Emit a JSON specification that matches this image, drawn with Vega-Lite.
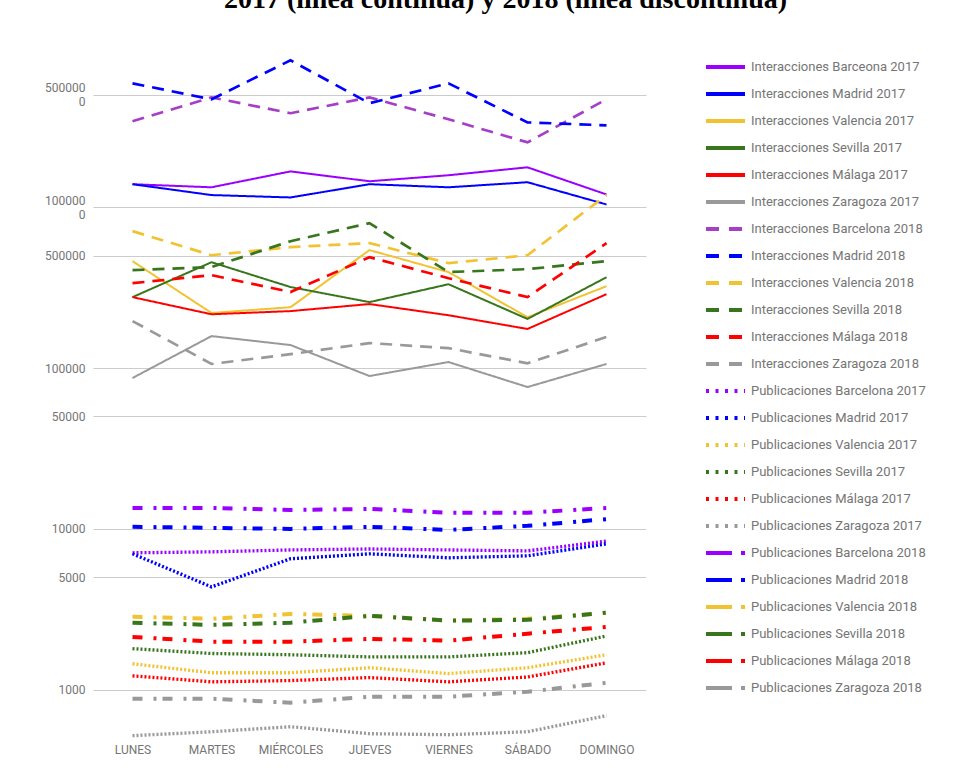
{
  "$schema": "https://vega.github.io/schema/vega-lite/v6.json",
  "width": 553,
  "height": 700,
  "autosize": {"type": "none"},
  "padding": {"left": 93, "top": 41, "right": 318, "bottom": 43},
  "background": "white",
  "title": {
    "text": "2017 (línea continua) y 2018 (línea discontinua)",
    "font": "Liberation Serif",
    "fontSize": 28,
    "fontWeight": "bold",
    "color": "#000000",
    "anchor": "middle",
    "frame": "group",
    "dx": 136,
    "dy": 15,
    "baseline": "alphabetic",
    "offset": 20
  },
  "config": {
    "font": "Roboto",
    "view": {"stroke": null},
    "axis": {
      "labelColor": "#757575",
      "labelFont": "Roboto",
      "labelFontSize": 12,
      "domain": false,
      "ticks": false,
      "tickSize": 0,
      "title": null
    },
    "legend": {
      "title": null,
      "symbolType": "stroke",
      "symbolSize": 1521,
      "symbolStrokeWidth": 4,
      "labelFont": "Roboto",
      "labelFontSize": 13,
      "labelColor": "#757575",
      "labelOffset": 4,
      "labelLimit": 300,
      "clipHeight": 26.22,
      "rowPadding": 0,
      "padding": 0,
      "direction": "vertical",
      "columns": 1
    }
  },
  "data": {
    "values": [
      {"s": "Interacciones Barceona 2017", "t": "I17", "d": "LUNES", "v": 1390000},
      {"s": "Interacciones Barceona 2017", "t": "I17", "d": "MARTES", "v": 1330000},
      {"s": "Interacciones Barceona 2017", "t": "I17", "d": "MIÉRCOLES", "v": 1670000},
      {"s": "Interacciones Barceona 2017", "t": "I17", "d": "JUEVES", "v": 1450000},
      {"s": "Interacciones Barceona 2017", "t": "I17", "d": "VIERNES", "v": 1580000},
      {"s": "Interacciones Barceona 2017", "t": "I17", "d": "SÁBADO", "v": 1770000},
      {"s": "Interacciones Barceona 2017", "t": "I17", "d": "DOMINGO", "v": 1200000},
      {"s": "Interacciones Madrid 2017", "t": "I17", "d": "LUNES", "v": 1390000},
      {"s": "Interacciones Madrid 2017", "t": "I17", "d": "MARTES", "v": 1190000},
      {"s": "Interacciones Madrid 2017", "t": "I17", "d": "MIÉRCOLES", "v": 1150000},
      {"s": "Interacciones Madrid 2017", "t": "I17", "d": "JUEVES", "v": 1390000},
      {"s": "Interacciones Madrid 2017", "t": "I17", "d": "VIERNES", "v": 1330000},
      {"s": "Interacciones Madrid 2017", "t": "I17", "d": "SÁBADO", "v": 1430000},
      {"s": "Interacciones Madrid 2017", "t": "I17", "d": "DOMINGO", "v": 1040000},
      {"s": "Interacciones Valencia 2017", "t": "I17", "d": "LUNES", "v": 462000},
      {"s": "Interacciones Valencia 2017", "t": "I17", "d": "MARTES", "v": 220000},
      {"s": "Interacciones Valencia 2017", "t": "I17", "d": "MIÉRCOLES", "v": 239000},
      {"s": "Interacciones Valencia 2017", "t": "I17", "d": "JUEVES", "v": 541000},
      {"s": "Interacciones Valencia 2017", "t": "I17", "d": "VIERNES", "v": 395000},
      {"s": "Interacciones Valencia 2017", "t": "I17", "d": "SÁBADO", "v": 207000},
      {"s": "Interacciones Valencia 2017", "t": "I17", "d": "DOMINGO", "v": 323000},
      {"s": "Interacciones Sevilla 2017", "t": "I17", "d": "LUNES", "v": 276000},
      {"s": "Interacciones Sevilla 2017", "t": "I17", "d": "MARTES", "v": 455000},
      {"s": "Interacciones Sevilla 2017", "t": "I17", "d": "MIÉRCOLES", "v": 319000},
      {"s": "Interacciones Sevilla 2017", "t": "I17", "d": "JUEVES", "v": 257000},
      {"s": "Interacciones Sevilla 2017", "t": "I17", "d": "VIERNES", "v": 332000},
      {"s": "Interacciones Sevilla 2017", "t": "I17", "d": "SÁBADO", "v": 202000},
      {"s": "Interacciones Sevilla 2017", "t": "I17", "d": "DOMINGO", "v": 367000},
      {"s": "Interacciones Málaga 2017", "t": "I17", "d": "LUNES", "v": 276000},
      {"s": "Interacciones Málaga 2017", "t": "I17", "d": "MARTES", "v": 216000},
      {"s": "Interacciones Málaga 2017", "t": "I17", "d": "MIÉRCOLES", "v": 226000},
      {"s": "Interacciones Málaga 2017", "t": "I17", "d": "JUEVES", "v": 250000},
      {"s": "Interacciones Málaga 2017", "t": "I17", "d": "VIERNES", "v": 213000},
      {"s": "Interacciones Málaga 2017", "t": "I17", "d": "SÁBADO", "v": 175000},
      {"s": "Interacciones Málaga 2017", "t": "I17", "d": "DOMINGO", "v": 288000},
      {"s": "Interacciones Zaragoza 2017", "t": "I17", "d": "LUNES", "v": 86700},
      {"s": "Interacciones Zaragoza 2017", "t": "I17", "d": "MARTES", "v": 158000},
      {"s": "Interacciones Zaragoza 2017", "t": "I17", "d": "MIÉRCOLES", "v": 139000},
      {"s": "Interacciones Zaragoza 2017", "t": "I17", "d": "JUEVES", "v": 89200},
      {"s": "Interacciones Zaragoza 2017", "t": "I17", "d": "VIERNES", "v": 109000},
      {"s": "Interacciones Zaragoza 2017", "t": "I17", "d": "SÁBADO", "v": 76200},
      {"s": "Interacciones Zaragoza 2017", "t": "I17", "d": "DOMINGO", "v": 106000},
      {"s": "Interacciones Barcelona 2018", "t": "I18", "d": "LUNES", "v": 3420000},
      {"s": "Interacciones Barcelona 2018", "t": "I18", "d": "MARTES", "v": 4820000},
      {"s": "Interacciones Barcelona 2018", "t": "I18", "d": "MIÉRCOLES", "v": 3840000},
      {"s": "Interacciones Barcelona 2018", "t": "I18", "d": "JUEVES", "v": 4820000},
      {"s": "Interacciones Barcelona 2018", "t": "I18", "d": "VIERNES", "v": 3520000},
      {"s": "Interacciones Barcelona 2018", "t": "I18", "d": "SÁBADO", "v": 2530000},
      {"s": "Interacciones Barcelona 2018", "t": "I18", "d": "DOMINGO", "v": 4690000},
      {"s": "Interacciones Madrid 2018", "t": "I18", "d": "LUNES", "v": 5890000},
      {"s": "Interacciones Madrid 2018", "t": "I18", "d": "MARTES", "v": 4690000},
      {"s": "Interacciones Madrid 2018", "t": "I18", "d": "MIÉRCOLES", "v": 8190000},
      {"s": "Interacciones Madrid 2018", "t": "I18", "d": "JUEVES", "v": 4430000},
      {"s": "Interacciones Madrid 2018", "t": "I18", "d": "VIERNES", "v": 5890000},
      {"s": "Interacciones Madrid 2018", "t": "I18", "d": "SÁBADO", "v": 3370000},
      {"s": "Interacciones Madrid 2018", "t": "I18", "d": "DOMINGO", "v": 3230000},
      {"s": "Interacciones Valencia 2018", "t": "I18", "d": "LUNES", "v": 710000},
      {"s": "Interacciones Valencia 2018", "t": "I18", "d": "MARTES", "v": 503000},
      {"s": "Interacciones Valencia 2018", "t": "I18", "d": "MIÉRCOLES", "v": 565000},
      {"s": "Interacciones Valencia 2018", "t": "I18", "d": "JUEVES", "v": 598000},
      {"s": "Interacciones Valencia 2018", "t": "I18", "d": "VIERNES", "v": 449000},
      {"s": "Interacciones Valencia 2018", "t": "I18", "d": "SÁBADO", "v": 503000},
      {"s": "Interacciones Valencia 2018", "t": "I18", "d": "DOMINGO", "v": 1190000},
      {"s": "Interacciones Sevilla 2018", "t": "I18", "d": "LUNES", "v": 406000},
      {"s": "Interacciones Sevilla 2018", "t": "I18", "d": "MARTES", "v": 424000},
      {"s": "Interacciones Sevilla 2018", "t": "I18", "d": "MIÉRCOLES", "v": 615000},
      {"s": "Interacciones Sevilla 2018", "t": "I18", "d": "JUEVES", "v": 796000},
      {"s": "Interacciones Sevilla 2018", "t": "I18", "d": "VIERNES", "v": 395000},
      {"s": "Interacciones Sevilla 2018", "t": "I18", "d": "SÁBADO", "v": 412000},
      {"s": "Interacciones Sevilla 2018", "t": "I18", "d": "DOMINGO", "v": 462000},
      {"s": "Interacciones Málaga 2018", "t": "I18", "d": "LUNES", "v": 337000},
      {"s": "Interacciones Málaga 2018", "t": "I18", "d": "MARTES", "v": 378000},
      {"s": "Interacciones Málaga 2018", "t": "I18", "d": "MIÉRCOLES", "v": 297000},
      {"s": "Interacciones Málaga 2018", "t": "I18", "d": "JUEVES", "v": 489000},
      {"s": "Interacciones Málaga 2018", "t": "I18", "d": "VIERNES", "v": 362000},
      {"s": "Interacciones Málaga 2018", "t": "I18", "d": "SÁBADO", "v": 276000},
      {"s": "Interacciones Málaga 2018", "t": "I18", "d": "DOMINGO", "v": 598000},
      {"s": "Interacciones Zaragoza 2018", "t": "I18", "d": "LUNES", "v": 196000},
      {"s": "Interacciones Zaragoza 2018", "t": "I18", "d": "MARTES", "v": 106000},
      {"s": "Interacciones Zaragoza 2018", "t": "I18", "d": "MIÉRCOLES", "v": 122000},
      {"s": "Interacciones Zaragoza 2018", "t": "I18", "d": "JUEVES", "v": 143000},
      {"s": "Interacciones Zaragoza 2018", "t": "I18", "d": "VIERNES", "v": 133000},
      {"s": "Interacciones Zaragoza 2018", "t": "I18", "d": "SÁBADO", "v": 107000},
      {"s": "Interacciones Zaragoza 2018", "t": "I18", "d": "DOMINGO", "v": 156000},
      {"s": "Publicaciones Barcelona 2017", "t": "P17", "d": "LUNES", "v": 7100},
      {"s": "Publicaciones Barcelona 2017", "t": "P17", "d": "MARTES", "v": 7200},
      {"s": "Publicaciones Barcelona 2017", "t": "P17", "d": "MIÉRCOLES", "v": 7400},
      {"s": "Publicaciones Barcelona 2017", "t": "P17", "d": "JUEVES", "v": 7500},
      {"s": "Publicaciones Barcelona 2017", "t": "P17", "d": "VIERNES", "v": 7400},
      {"s": "Publicaciones Barcelona 2017", "t": "P17", "d": "SÁBADO", "v": 7300},
      {"s": "Publicaciones Barcelona 2017", "t": "P17", "d": "DOMINGO", "v": 8400},
      {"s": "Publicaciones Madrid 2017", "t": "P17", "d": "LUNES", "v": 7000},
      {"s": "Publicaciones Madrid 2017", "t": "P17", "d": "MARTES", "v": 4360},
      {"s": "Publicaciones Madrid 2017", "t": "P17", "d": "MIÉRCOLES", "v": 6520},
      {"s": "Publicaciones Madrid 2017", "t": "P17", "d": "JUEVES", "v": 7000},
      {"s": "Publicaciones Madrid 2017", "t": "P17", "d": "VIERNES", "v": 6610},
      {"s": "Publicaciones Madrid 2017", "t": "P17", "d": "SÁBADO", "v": 6800},
      {"s": "Publicaciones Madrid 2017", "t": "P17", "d": "DOMINGO", "v": 8070},
      {"s": "Publicaciones Valencia 2017", "t": "P17", "d": "LUNES", "v": 1450},
      {"s": "Publicaciones Valencia 2017", "t": "P17", "d": "MARTES", "v": 1275},
      {"s": "Publicaciones Valencia 2017", "t": "P17", "d": "MIÉRCOLES", "v": 1275},
      {"s": "Publicaciones Valencia 2017", "t": "P17", "d": "JUEVES", "v": 1370},
      {"s": "Publicaciones Valencia 2017", "t": "P17", "d": "VIERNES", "v": 1260},
      {"s": "Publicaciones Valencia 2017", "t": "P17", "d": "SÁBADO", "v": 1370},
      {"s": "Publicaciones Valencia 2017", "t": "P17", "d": "DOMINGO", "v": 1650},
      {"s": "Publicaciones Sevilla 2017", "t": "P17", "d": "LUNES", "v": 1800},
      {"s": "Publicaciones Sevilla 2017", "t": "P17", "d": "MARTES", "v": 1680},
      {"s": "Publicaciones Sevilla 2017", "t": "P17", "d": "MIÉRCOLES", "v": 1650},
      {"s": "Publicaciones Sevilla 2017", "t": "P17", "d": "JUEVES", "v": 1600},
      {"s": "Publicaciones Sevilla 2017", "t": "P17", "d": "VIERNES", "v": 1600},
      {"s": "Publicaciones Sevilla 2017", "t": "P17", "d": "SÁBADO", "v": 1700},
      {"s": "Publicaciones Sevilla 2017", "t": "P17", "d": "DOMINGO", "v": 2160},
      {"s": "Publicaciones Málaga 2017", "t": "P17", "d": "LUNES", "v": 1220},
      {"s": "Publicaciones Málaga 2017", "t": "P17", "d": "MARTES", "v": 1120},
      {"s": "Publicaciones Málaga 2017", "t": "P17", "d": "MIÉRCOLES", "v": 1140},
      {"s": "Publicaciones Málaga 2017", "t": "P17", "d": "JUEVES", "v": 1190},
      {"s": "Publicaciones Málaga 2017", "t": "P17", "d": "VIERNES", "v": 1120},
      {"s": "Publicaciones Málaga 2017", "t": "P17", "d": "SÁBADO", "v": 1200},
      {"s": "Publicaciones Málaga 2017", "t": "P17", "d": "DOMINGO", "v": 1470},
      {"s": "Publicaciones Zaragoza 2017", "t": "P17", "d": "LUNES", "v": 518},
      {"s": "Publicaciones Zaragoza 2017", "t": "P17", "d": "MARTES", "v": 548},
      {"s": "Publicaciones Zaragoza 2017", "t": "P17", "d": "MIÉRCOLES", "v": 589},
      {"s": "Publicaciones Zaragoza 2017", "t": "P17", "d": "JUEVES", "v": 533},
      {"s": "Publicaciones Zaragoza 2017", "t": "P17", "d": "VIERNES", "v": 525},
      {"s": "Publicaciones Zaragoza 2017", "t": "P17", "d": "SÁBADO", "v": 548},
      {"s": "Publicaciones Zaragoza 2017", "t": "P17", "d": "DOMINGO", "v": 690},
      {"s": "Publicaciones Barcelona 2018", "t": "P18", "d": "LUNES", "v": 13500},
      {"s": "Publicaciones Barcelona 2018", "t": "P18", "d": "MARTES", "v": 13500},
      {"s": "Publicaciones Barcelona 2018", "t": "P18", "d": "MIÉRCOLES", "v": 13100},
      {"s": "Publicaciones Barcelona 2018", "t": "P18", "d": "JUEVES", "v": 13300},
      {"s": "Publicaciones Barcelona 2018", "t": "P18", "d": "VIERNES", "v": 12600},
      {"s": "Publicaciones Barcelona 2018", "t": "P18", "d": "SÁBADO", "v": 12600},
      {"s": "Publicaciones Barcelona 2018", "t": "P18", "d": "DOMINGO", "v": 13500},
      {"s": "Publicaciones Madrid 2018", "t": "P18", "d": "LUNES", "v": 10300},
      {"s": "Publicaciones Madrid 2018", "t": "P18", "d": "MARTES", "v": 10150},
      {"s": "Publicaciones Madrid 2018", "t": "P18", "d": "MIÉRCOLES", "v": 10000},
      {"s": "Publicaciones Madrid 2018", "t": "P18", "d": "JUEVES", "v": 10300},
      {"s": "Publicaciones Madrid 2018", "t": "P18", "d": "VIERNES", "v": 9860},
      {"s": "Publicaciones Madrid 2018", "t": "P18", "d": "SÁBADO", "v": 10450},
      {"s": "Publicaciones Madrid 2018", "t": "P18", "d": "DOMINGO", "v": 11500},
      {"s": "Publicaciones Valencia 2018", "t": "P18", "d": "LUNES", "v": 2840},
      {"s": "Publicaciones Valencia 2018", "t": "P18", "d": "MARTES", "v": 2760},
      {"s": "Publicaciones Valencia 2018", "t": "P18", "d": "MIÉRCOLES", "v": 2960},
      {"s": "Publicaciones Valencia 2018", "t": "P18", "d": "JUEVES", "v": 2880},
      {"s": "Publicaciones Valencia 2018", "t": "P18", "d": "VIERNES", "v": 2690},
      {"s": "Publicaciones Valencia 2018", "t": "P18", "d": "SÁBADO", "v": 2760},
      {"s": "Publicaciones Valencia 2018", "t": "P18", "d": "DOMINGO", "v": 3010},
      {"s": "Publicaciones Sevilla 2018", "t": "P18", "d": "LUNES", "v": 2610},
      {"s": "Publicaciones Sevilla 2018", "t": "P18", "d": "MARTES", "v": 2530},
      {"s": "Publicaciones Sevilla 2018", "t": "P18", "d": "MIÉRCOLES", "v": 2610},
      {"s": "Publicaciones Sevilla 2018", "t": "P18", "d": "JUEVES", "v": 2880},
      {"s": "Publicaciones Sevilla 2018", "t": "P18", "d": "VIERNES", "v": 2690},
      {"s": "Publicaciones Sevilla 2018", "t": "P18", "d": "SÁBADO", "v": 2720},
      {"s": "Publicaciones Sevilla 2018", "t": "P18", "d": "DOMINGO", "v": 3010},
      {"s": "Publicaciones Málaga 2018", "t": "P18", "d": "LUNES", "v": 2130},
      {"s": "Publicaciones Málaga 2018", "t": "P18", "d": "MARTES", "v": 1990},
      {"s": "Publicaciones Málaga 2018", "t": "P18", "d": "MIÉRCOLES", "v": 1990},
      {"s": "Publicaciones Málaga 2018", "t": "P18", "d": "JUEVES", "v": 2070},
      {"s": "Publicaciones Málaga 2018", "t": "P18", "d": "VIERNES", "v": 2020},
      {"s": "Publicaciones Málaga 2018", "t": "P18", "d": "SÁBADO", "v": 2230},
      {"s": "Publicaciones Málaga 2018", "t": "P18", "d": "DOMINGO", "v": 2460},
      {"s": "Publicaciones Zaragoza 2018", "t": "P18", "d": "LUNES", "v": 879},
      {"s": "Publicaciones Zaragoza 2018", "t": "P18", "d": "MARTES", "v": 879},
      {"s": "Publicaciones Zaragoza 2018", "t": "P18", "d": "MIÉRCOLES", "v": 830},
      {"s": "Publicaciones Zaragoza 2018", "t": "P18", "d": "JUEVES", "v": 905},
      {"s": "Publicaciones Zaragoza 2018", "t": "P18", "d": "VIERNES", "v": 905},
      {"s": "Publicaciones Zaragoza 2018", "t": "P18", "d": "SÁBADO", "v": 972},
      {"s": "Publicaciones Zaragoza 2018", "t": "P18", "d": "DOMINGO", "v": 1105}
    ]
  },
  "encoding": {
    "x": {
      "field": "d",
      "type": "ordinal",
      "sort": ["LUNES", "MARTES", "MIÉRCOLES", "JUEVES", "VIERNES", "SÁBADO", "DOMINGO"],
      "scale": {"type": "point", "padding": 0.5},
      "axis": {"labelAngle": 0, "labelPadding": 3, "grid": false}
    },
    "y": {
      "field": "v",
      "type": "quantitative",
      "scale": {"type": "log", "domain": [480, 10800000], "nice": false, "zero": false},
      "axis": {
        "values": [1000, 5000, 10000, 50000, 100000, 500000, 1000000, 5000000],
        "format": "d",
        "labelExpr": "datum.value == 1000000 ? ['100000', '0'] : datum.value == 5000000 ? ['500000', '0'] : datum.label",
        "labelLineHeight": 14,
        "labelOffset": {"condition": {"test": "datum.value >= 1000000", "value": -7}, "value": 0},
        "labelPadding": 8,
        "grid": true,
        "gridColor": "#cccccc",
        "gridWidth": 1
      }
    }
  },
  "layer": [
    {
      "mark": {"type": "line", "strokeCap": "butt"},
      "encoding": {
        "color": {
          "field": "s",
          "type": "nominal",
          "legend": null,
          "scale": {
            "domain": ["Interacciones Barceona 2017", "Interacciones Madrid 2017", "Interacciones Valencia 2017", "Interacciones Sevilla 2017", "Interacciones Málaga 2017", "Interacciones Zaragoza 2017", "Interacciones Barcelona 2018", "Interacciones Madrid 2018", "Interacciones Valencia 2018", "Interacciones Sevilla 2018", "Interacciones Málaga 2018", "Interacciones Zaragoza 2018", "Publicaciones Barcelona 2017", "Publicaciones Madrid 2017", "Publicaciones Valencia 2017", "Publicaciones Sevilla 2017", "Publicaciones Málaga 2017", "Publicaciones Zaragoza 2017", "Publicaciones Barcelona 2018", "Publicaciones Madrid 2018", "Publicaciones Valencia 2018", "Publicaciones Sevilla 2018", "Publicaciones Málaga 2018", "Publicaciones Zaragoza 2018"],
            "range": ["#9900ff", "#0000ff", "#f1c232", "#38761d", "#ff0000", "#999999", "#a43fc6", "#0000ff", "#f1c232", "#38761d", "#ff0000", "#999999", "#9900ff", "#0000ff", "#f1c232", "#38761d", "#ff0000", "#999999", "#9900ff", "#0000ff", "#f1c232", "#38761d", "#ff0000", "#999999"]
          }
        },
        "strokeDash": {
          "field": "t",
          "type": "nominal",
          "legend": null,
          "scale": {"domain": ["I17", "I18", "P17", "P18"], "range": [[1, 0], [12, 8], [2, 2], [10, 11, 3, 6]]}
        },
        "strokeWidth": {
          "field": "t",
          "type": "nominal",
          "legend": null,
          "scale": {"domain": ["I17", "I18", "P17", "P18"], "range": [2, 4, 2.5, 3]}
        }
      }
    },
    {
      "data": {"values": []},
      "mark": {"type": "line", "strokeWidth": 4},
      "encoding": {
        "color": {
          "field": "s",
          "type": "nominal",
          "legend": {"orient": "none", "legendX": 611, "legendY": 12.9},
          "scale": {
            "domain": ["Interacciones Barceona 2017", "Interacciones Madrid 2017", "Interacciones Valencia 2017", "Interacciones Sevilla 2017", "Interacciones Málaga 2017", "Interacciones Zaragoza 2017", "Interacciones Barcelona 2018", "Interacciones Madrid 2018", "Interacciones Valencia 2018", "Interacciones Sevilla 2018", "Interacciones Málaga 2018", "Interacciones Zaragoza 2018", "Publicaciones Barcelona 2017", "Publicaciones Madrid 2017", "Publicaciones Valencia 2017", "Publicaciones Sevilla 2017", "Publicaciones Málaga 2017", "Publicaciones Zaragoza 2017", "Publicaciones Barcelona 2018", "Publicaciones Madrid 2018", "Publicaciones Valencia 2018", "Publicaciones Sevilla 2018", "Publicaciones Málaga 2018", "Publicaciones Zaragoza 2018"],
            "range": ["#9900ff", "#0000ff", "#f1c232", "#38761d", "#ff0000", "#999999", "#a43fc6", "#0000ff", "#f1c232", "#38761d", "#ff0000", "#999999", "#9900ff", "#0000ff", "#f1c232", "#38761d", "#ff0000", "#999999", "#9900ff", "#0000ff", "#f1c232", "#38761d", "#ff0000", "#999999"]
          }
        },
        "strokeDash": {
          "field": "s",
          "type": "nominal",
          "legend": {"orient": "none", "legendX": 611, "legendY": 12.9},
          "scale": {
            "domain": ["Interacciones Barceona 2017", "Interacciones Madrid 2017", "Interacciones Valencia 2017", "Interacciones Sevilla 2017", "Interacciones Málaga 2017", "Interacciones Zaragoza 2017", "Interacciones Barcelona 2018", "Interacciones Madrid 2018", "Interacciones Valencia 2018", "Interacciones Sevilla 2018", "Interacciones Málaga 2018", "Interacciones Zaragoza 2018", "Publicaciones Barcelona 2017", "Publicaciones Madrid 2017", "Publicaciones Valencia 2017", "Publicaciones Sevilla 2017", "Publicaciones Málaga 2017", "Publicaciones Zaragoza 2017", "Publicaciones Barcelona 2018", "Publicaciones Madrid 2018", "Publicaciones Valencia 2018", "Publicaciones Sevilla 2018", "Publicaciones Málaga 2018", "Publicaciones Zaragoza 2018"],
            "range": [[1, 0], [1, 0], [1, 0], [1, 0], [1, 0], [1, 0], [13, 10], [13, 10], [13, 10], [13, 10], [13, 10], [13, 10], [3, 6.5], [3, 6.5], [3, 6.5], [3, 6.5], [3, 6.5], [3, 6.5], [26, 9, 4, 20], [26, 9, 4, 20], [26, 9, 4, 20], [26, 9, 4, 20], [26, 9, 4, 20], [26, 9, 4, 20]]
          }
        }
      }
    }
  ],
  "resolve": {
    "scale": {"color": "independent", "strokeDash": "independent"},
    "legend": {"color": "independent", "strokeDash": "independent"}
  }
}
